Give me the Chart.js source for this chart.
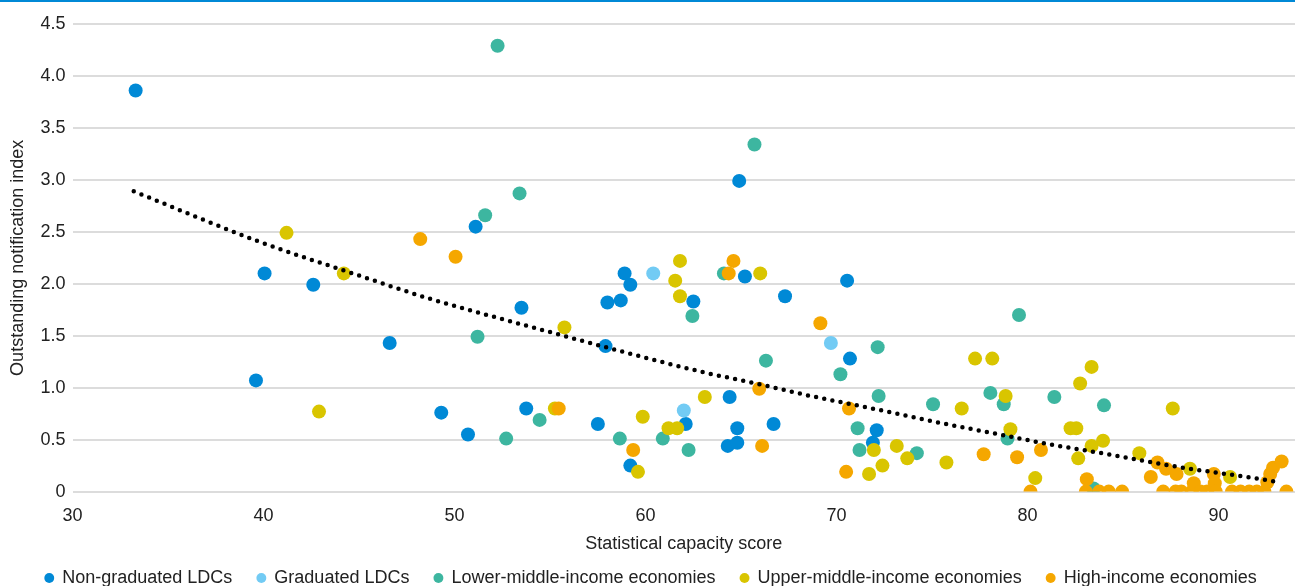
<!DOCTYPE html>
<html>
<head>
<meta charset="utf-8">
<script src="https://cdn.jsdelivr.net/npm/chart.js@4/dist/chart.umd.min.js"></script>
<style>
  html, body { margin: 0; padding: 0; background: #fff; }
  #wrap { position: relative; width: 1295px; height: 586px; overflow: hidden; }
  #topline { position: absolute; left: 0; top: 0; width: 1295px; height: 2px; background: #0089d6; }
</style>
</head>
<body>
<div id="wrap">
  <canvas id="chart"></canvas>
  <div id="topline"></div>
</div>
<script>
// series, in legend order
var seriesNames = ['Non-graduated LDCs', 'Graduated LDCs', 'Lower-middle-income economies',
    'Upper-middle-income economies', 'High-income economies'];

// [statistical capacity score, outstanding notification index]
var nonGraduatedLDCs = [
    [33.3, 3.86], [39.6, 1.07], [40.05, 2.10], [42.6, 1.99], [46.6, 1.43], [49.3, 0.76],
    [50.7, 0.55], [51.1, 2.55], [53.5, 1.77], [53.75, 0.80], [57.5, 0.65], [57.9, 1.40],
    [58.0, 1.82], [58.7, 1.84], [58.9, 2.10], [59.2, 1.99], [59.2, 0.25], [62.1, 0.65],
    [62.5, 1.83], [64.3, 0.44], [64.4, 0.91], [64.8, 0.47], [64.8, 0.61], [64.9, 2.99],
    [65.2, 2.07], [66.7, 0.65], [67.3, 1.88], [70.55, 2.03], [70.7, 1.28], [71.9, 0.47],
    [72.1, 0.59]
];
var graduatedLDCs = [
    [60.4, 2.10], [62.0, 0.78], [69.7, 1.43]
];
var lowerMiddleIncome = [
    [51.2, 1.49], [51.6, 2.66], [52.25, 4.29], [52.7, 0.51], [53.4, 2.87], [54.45, 0.69],
    [58.65, 0.51], [60.9, 0.51], [62.25, 0.40], [62.45, 1.69], [64.1, 2.10], [65.7, 3.34],
    [66.3, 1.26], [70.2, 1.13], [71.1, 0.61], [71.2, 0.40], [72.15, 1.39], [72.2, 0.92],
    [74.2, 0.37], [75.05, 0.84], [78.05, 0.95], [78.75, 0.84], [78.95, 0.51], [79.55, 1.70],
    [81.4, 0.91], [83.45, 0.03], [84.0, 0.83]
];
var upperMiddleIncome = [
    [41.2, 2.49], [42.9, 0.77], [44.2, 2.10], [55.25, 0.80], [55.75, 1.58], [59.6, 0.19],
    [59.85, 0.72], [61.2, 0.61], [61.55, 2.03], [61.65, 0.61], [61.8, 2.22], [61.8, 1.88],
    [63.1, 0.91], [66.0, 2.10], [71.7, 0.17], [71.95, 0.40], [72.4, 0.25], [73.15, 0.44],
    [73.7, 0.32], [75.75, 0.28], [76.55, 0.80], [77.25, 1.28], [78.15, 1.28], [78.85, 0.92],
    [79.1, 0.60], [80.4, 0.13], [82.25, 0.61], [82.55, 0.61], [82.65, 0.32], [82.75, 1.04],
    [83.35, 1.20], [83.35, 0.44], [83.95, 0.49], [85.85, 0.37], [87.6, 0.80], [88.5, 0.22],
    [90.6, 0.14]
];
var highIncome = [
    [48.2, 2.43], [50.05, 2.26], [55.45, 0.80], [59.35, 0.40], [64.35, 2.10], [64.6, 2.22],
    [65.95, 0.99], [66.1, 0.44], [69.15, 1.62], [70.5, 0.19], [70.65, 0.80], [77.7, 0.36],
    [79.45, 0.33], [80.15, 0], [80.7, 0.40], [83.1, 0.12], [83.05, 0], [83.75, 0],
    [84.25, 0], [84.95, 0], [86.45, 0.14], [86.8, 0.28], [87.1, 0], [87.25, 0.22],
    [87.75, 0], [87.8, 0.17], [88.05, 0], [88.6, 0], [88.7, 0.08], [89.05, 0],
    [89.4, 0], [89.75, 0.17], [89.8, 0.08], [89.85, 0], [90.7, 0], [91.15, 0],
    [91.6, 0], [92.0, 0], [92.4, 0], [92.55, 0.09], [92.7, 0.17], [92.85, 0.23],
    [93.3, 0.29], [93.55, 0]
];

// dotted trend line
var trendLine = [
    [33.2, 2.89], [39.7, 2.41], [44.5, 2.11], [48.8, 1.85], [51.9, 1.69], [55.7, 1.50],
    [58.1, 1.38], [63.0, 1.15], [65.8, 1.04], [68.4, 0.93], [71.6, 0.81], [75.2, 0.67],
    [78.8, 0.54], [81.0, 0.46], [84.2, 0.36], [87.8, 0.24], [91.5, 0.14], [93.2, 0.09]
];

var xTickValues = [30, 40, 50, 60, 70, 80, 90];
var yTickValues = [0, 0.5, 1, 1.5, 2, 2.5, 3, 3.5, 4, 4.5];
var yTickLabels = ['0', '0.5', '1.0', '1.5', '2.0', '2.5', '3.0', '3.5', '4.0', '4.5'];

var seriesData = [nonGraduatedLDCs, graduatedLDCs, lowerMiddleIncome, upperMiddleIncome, highIncome];
var colors = ['#0089d6', '#72cbf4', '#3db6a0', '#d9c500', '#f5a700'];
var FONT = '"Liberation Sans", Arial, sans-serif';
var TEXT = '#222222';

function toPoints(arr) {
    return arr.map(function(p) {
        return {x: p[0], y: p[1]};
    });
}

var datasets = seriesData.map(function(arr, i) {
    return {
        label: seriesNames[i],
        data: toPoints(arr),
        backgroundColor: colors[i],
        borderColor: colors[i],
        pointRadius: 7,
        pointHoverRadius: 7,
        pointBorderWidth: 0,
        order: seriesData.length - i
    };
});

datasets.push({
    label: 'Trend',
    data: toPoints(trendLine),
    showLine: true,
    borderColor: '#000',
    borderWidth: 4.5,
    borderDash: [0, 8.3],
    borderCapStyle: 'round',
    cubicInterpolationMode: 'monotone',
    pointRadius: 0,
    pointHoverRadius: 0,
    order: 0
});

Chart.defaults.font.family = FONT;
Chart.defaults.font.size = 18;
Chart.defaults.color = TEXT;

new Chart(document.getElementById('chart'), {
    type: 'scatter',
    data: {datasets: datasets},
    options: {
        responsive: true,
        maintainAspectRatio: false,
        animation: false,
        events: [],
        layout: {autoPadding: false, padding: {left: 7, right: 0, top: 24, bottom: -11}},
        plugins: {
            tooltip: {enabled: false},
            legend: {
                position: 'bottom',
                labels: {
                    usePointStyle: true,
                    pointStyle: 'circle',
                    boxWidth: 8,
                    boxHeight: 7,
                    padding: 25,
                    color: TEXT,
                    font: {size: 18},
                    filter: function(item) {
                        return item.text !== 'Trend';
                    },
                    sort: function(a, b) {
                        return a.datasetIndex - b.datasetIndex;
                    }
                }
            }
        },
        scales: {
            x: {
                type: 'linear',
                min: 30,
                max: 94,
                afterBuildTicks: function(scale) {
                    scale.ticks = xTickValues.map(function(v) { return {value: v}; });
                },
                grid: {display: false, drawTicks: false},
                border: {display: false},
                ticks: {padding: 14, color: TEXT, font: {size: 18}},
                title: {
                    display: true,
                    text: 'Statistical capacity score',
                    color: TEXT,
                    font: {size: 18},
                    padding: {top: -8, bottom: -10.8}
                }
            },
            y: {
                type: 'linear',
                min: 0,
                max: 4.5,
                afterBuildTicks: function(scale) {
                    scale.ticks = yTickValues.map(function(v) { return {value: v}; });
                },
                grid: {color: '#dcdcdc', lineWidth: 2, drawTicks: false},
                border: {display: false},
                ticks: {
                    padding: 7,
                    color: TEXT,
                    font: {size: 18},
                    callback: function(value) {
                        return yTickLabels[yTickValues.indexOf(value)];
                    }
                },
                title: {
                    display: true,
                    text: 'Outstanding notification index',
                    color: TEXT,
                    font: {size: 18},
                    padding: {top: 0, bottom: 5}
                }
            }
        }
    }
});
</script>
</body>
</html>
